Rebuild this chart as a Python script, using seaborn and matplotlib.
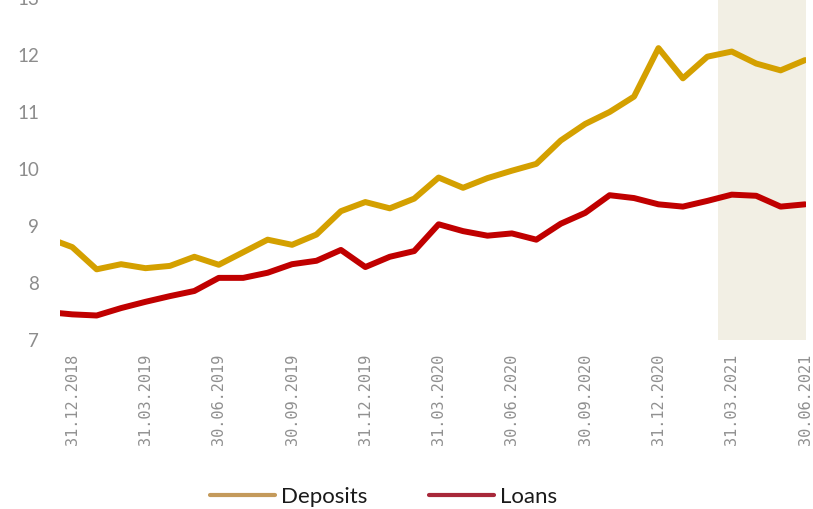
import pandas as pd
import matplotlib.pyplot as plt
import seaborn as sns
from matplotlib.lines import Line2D

# month-end dates, first one sits just outside the left edge
dates = ['30.11.2018', '31.12.2018', '31.01.2019', '28.02.2019', '31.03.2019', '30.04.2019',
         '31.05.2019', '30.06.2019', '31.07.2019', '31.08.2019', '30.09.2019', '31.10.2019',
         '30.11.2019', '31.12.2019', '31.01.2020', '29.02.2020', '31.03.2020', '30.04.2020',
         '31.05.2020', '30.06.2020', '31.07.2020', '31.08.2020', '30.09.2020', '31.10.2020',
         '30.11.2020', '31.12.2020', '31.01.2021', '28.02.2021', '31.03.2021', '30.04.2021',
         '31.05.2021', '30.06.2021']

deposits = [8.79, 8.63, 8.24, 8.33, 8.26, 8.30, 8.46, 8.32, 8.54, 8.76, 8.67, 8.85,
            9.26, 9.42, 9.31, 9.48, 9.85, 9.67, 9.84, 9.97, 10.09, 10.50, 10.79, 11.00,
            11.27, 12.12, 11.59, 11.97, 12.06, 11.85, 11.73, 11.91]

loans = [7.49, 7.45, 7.43, 7.56, 7.67, 7.77, 7.86, 8.09, 8.09, 8.18, 8.33, 8.39,
         8.58, 8.28, 8.46, 8.56, 9.03, 8.91, 8.83, 8.87, 8.76, 9.04, 9.23, 9.54,
         9.49, 9.38, 9.34, 9.44, 9.55, 9.53, 9.34, 9.38]

tick_labels = dates[1::3]
y_ticks = [7, 8, 9, 10, 11, 12, 13]

df = pd.DataFrame({'Date': dates * 2,
                   'Value': deposits + loans,
                   'Series': ['Deposits'] * len(dates) + ['Loans'] * len(dates)})

sns.set_style('white')
plt.rcParams['font.family'] = ['Lato', 'DejaVu Sans']

fig = plt.figure(figsize=(8.13, 5.09), dpi=100)
ax = fig.add_axes([0.0738, 0.332, 0.9176, 0.672])

ax.axvspan(27.45, 31.05, color='#F2EFE4', lw=0, zorder=0)

sns.lineplot(data=df, x='Date', y='Value', hue='Series', sort=False, ax=ax,
             palette={'Deposits': '#D4A000', 'Loans': '#C00000'}, linewidth=4.3, legend=False)

ax.set_xlim(0.5, 31.04)
ax.set_ylim(7, 13)
ax.set_xticks(range(1, len(dates), 3))
ax.set_xticklabels(tick_labels, rotation=90, family='DejaVu Sans Mono', fontsize=11, color='#909090')
ax.set_yticks(y_ticks)
ax.set_yticklabels([str(v) for v in y_ticks], fontsize=13.5, color='#8C8C8C')
ax.tick_params(axis='x', length=0, pad=10)
ax.tick_params(axis='y', length=0, pad=15)
ax.set_xlabel('')
ax.set_ylabel('')
sns.despine(ax=ax, left=True, bottom=True)

# legend colours differ slightly from the lines in the original
handles = [Line2D([], [], color='#C49A5B', lw=3), Line2D([], [], color='#A8283A', lw=3)]
fig.legend(handles, ['Deposits', 'Loans'], loc='center', bbox_to_anchor=(0.4715, 0.024), ncol=2,
           frameon=False, fontsize=16, handlelength=2.95, handletextpad=0.25, columnspacing=2.75,
           labelcolor='#1A1A1A')

plt.savefig('out.png', dpi=100)
